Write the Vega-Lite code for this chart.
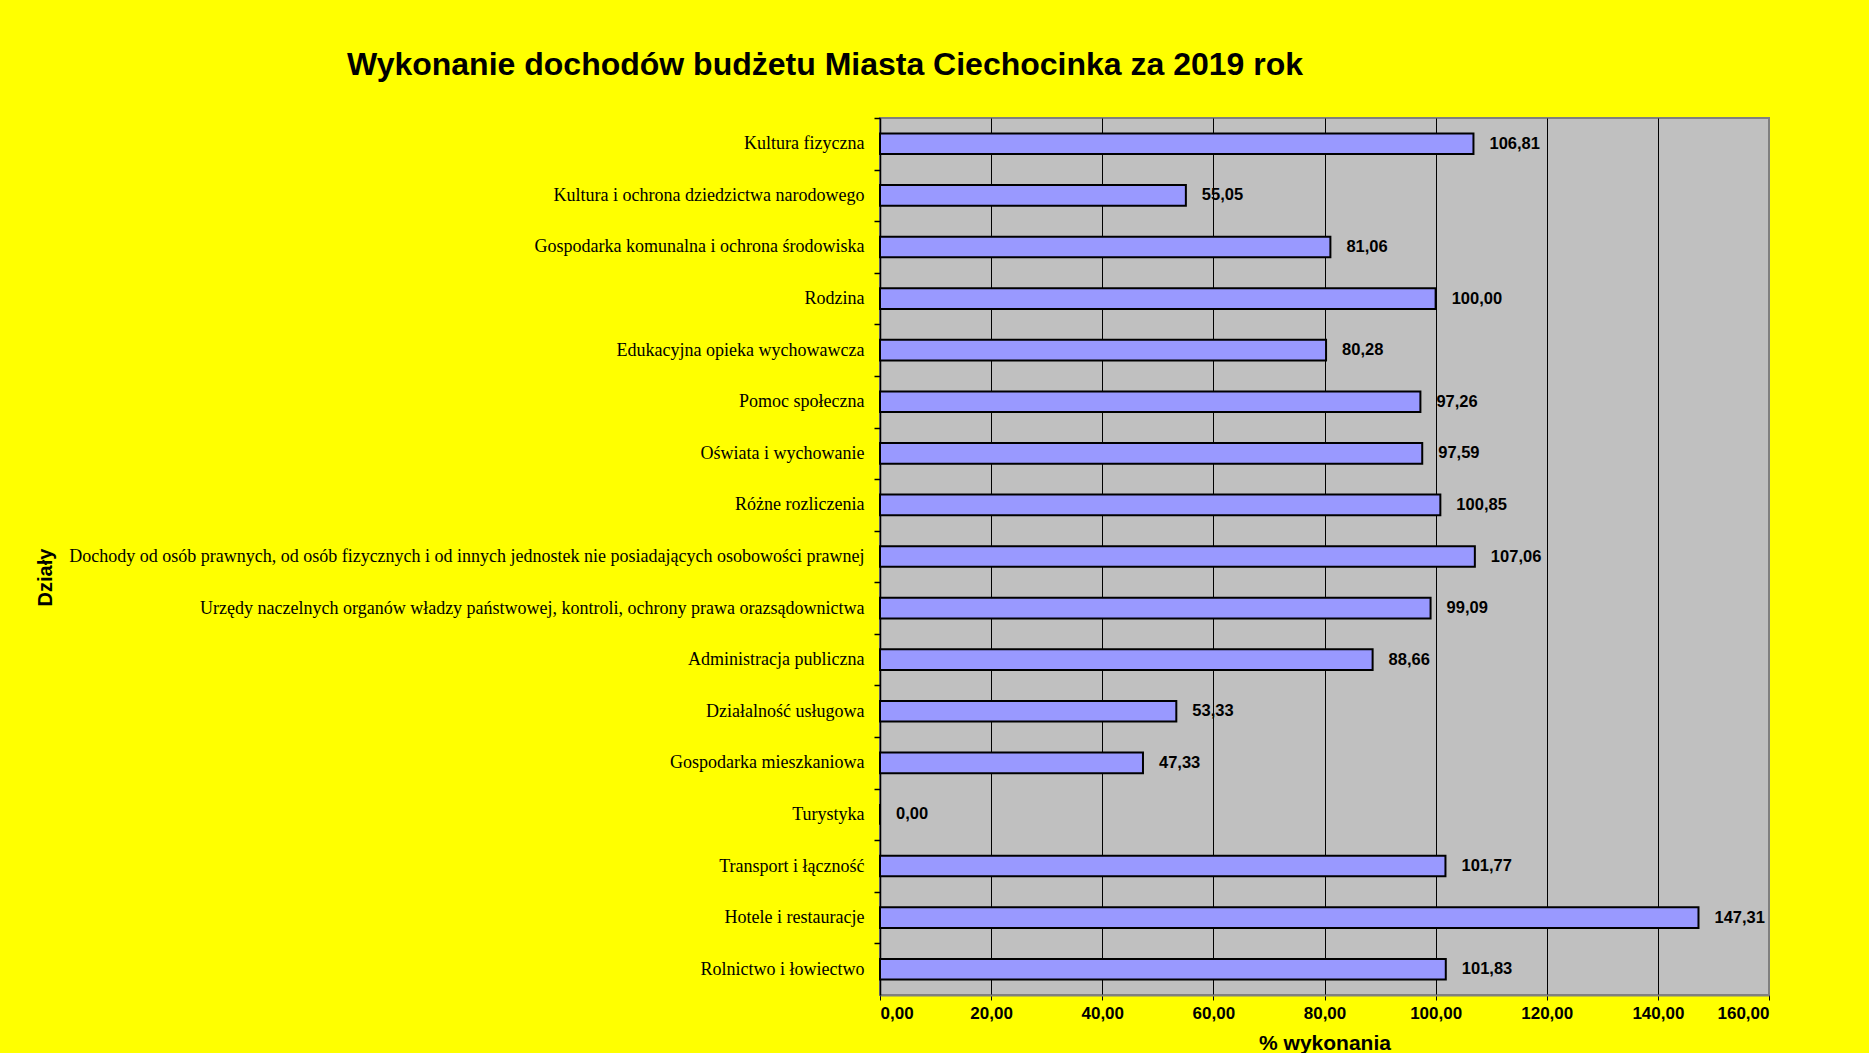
{
  "$schema": "https://vega.github.io/schema/vega-lite/v6.json",
  "width": 889,
  "height": 877,
  "autosize": {"type": "none"},
  "padding": {"left": 880, "top": 118, "right": 100, "bottom": 58},
  "background": "#FFFF00",
  "title": {
    "text": "Wykonanie dochodów budżetu Miasta Ciechocinka za 2019 rok",
    "anchor": "start",
    "frame": "group",
    "dx": -533,
    "offset": 35.5,
    "font": "Liberation Sans",
    "fontSize": 32,
    "fontWeight": "bold",
    "color": "#000000"
  },
  "data": {
    "values": [
      {"dzial": "Kultura fizyczna", "proc": 106.81},
      {"dzial": "Kultura i ochrona dziedzictwa narodowego", "proc": 55.05},
      {"dzial": "Gospodarka komunalna i ochrona środowiska", "proc": 81.06},
      {"dzial": "Rodzina", "proc": 100.00},
      {"dzial": "Edukacyjna opieka wychowawcza", "proc": 80.28},
      {"dzial": "Pomoc społeczna", "proc": 97.26},
      {"dzial": "Oświata i wychowanie", "proc": 97.59},
      {"dzial": "Różne rozliczenia", "proc": 100.85},
      {"dzial": "Dochody od osób prawnych, od osób  fizycznych i od innych jednostek nie  posiadających osobowości prawnej", "proc": 107.06},
      {"dzial": "Urzędy naczelnych organów władzy państwowej, kontroli, ochrony prawa orazsądownictwa", "proc": 99.09},
      {"dzial": "Administracja publiczna", "proc": 88.66},
      {"dzial": "Działalność usługowa", "proc": 53.33},
      {"dzial": "Gospodarka mieszkaniowa", "proc": 47.33},
      {"dzial": "Turystyka", "proc": 0.00},
      {"dzial": "Transport i łączność", "proc": 101.77},
      {"dzial": "Hotele i restauracje", "proc": 147.31},
      {"dzial": "Rolnictwo i łowiectwo", "proc": 101.83}
    ]
  },
  "encoding": {
    "y": {
      "field": "dzial",
      "type": "nominal",
      "sort": null,
      "scale": {"paddingInner": 0.6, "paddingOuter": 0.3},
      "axis": {
        "title": "Działy",
        "titleFont": "Liberation Sans",
        "titleFontSize": 20,
        "titleFontWeight": "bold",
        "titleColor": "#000000",
        "titleX": -835,
        "titleY": 459,
        "titleAngle": 270,
        "titleAlign": "center",
        "titleBaseline": "middle",
        "labelFont": "Liberation Serif",
        "labelFontSize": 18,
        "labelColor": "#000000",
        "labelLimit": 1000,
        "labelPadding": 10,
        "labelOffset": 25.8,
        "tickSize": 6,
        "tickWidth": 1.5,
        "tickColor": "#000000",
        "tickOffset": -25.8,
        "domainColor": "#000000",
        "domainWidth": 1.5,
        "grid": false
      }
    },
    "x": {
      "field": "proc",
      "type": "quantitative",
      "scale": {"domain": [0, 160], "nice": false},
      "axis": {
        "title": "% wykonania",
        "values": [0, 20, 40, 60, 80, 100, 120, 140, 160],
        "format": ".2f",
        "titleFont": "Liberation Sans",
        "titleFontSize": 21,
        "titleFontWeight": "bold",
        "titleColor": "#000000",
        "titlePadding": 11,
        "labelFont": "Liberation Sans",
        "labelFontSize": 17,
        "labelFontWeight": "bold",
        "labelColor": "#000000",
        "labelPadding": 5,
        "tickSize": 5,
        "tickColor": "#000000",
        "domainColor": "#808080",
        "domainWidth": 2,
        "grid": true,
        "gridColor": {"condition": {"test": "datum.value === 160 || datum.value === 0", "value": "#808080"}, "value": "#000000"},
        "gridWidth": 1
      }
    }
  },
  "layer": [
    {
      "mark": {"type": "bar", "color": "#9999FF", "stroke": "#000000", "strokeWidth": 2}
    },
    {
      "mark": {"type": "text", "align": "left", "baseline": "middle", "dx": 16, "font": "Liberation Sans", "fontSize": 16.5, "fontWeight": "bold", "color": "#000000"},
      "encoding": {"text": {"field": "proc", "type": "quantitative", "format": ".2f"}}
    }
  ],
  "config": {
    "locale": {"number": {"decimal": ",", "thousands": " ", "grouping": [3], "currency": ["", " zł"]}},
    "view": {"fill": "#C0C0C0", "stroke": "#808080", "strokeWidth": 2}
  }
}
